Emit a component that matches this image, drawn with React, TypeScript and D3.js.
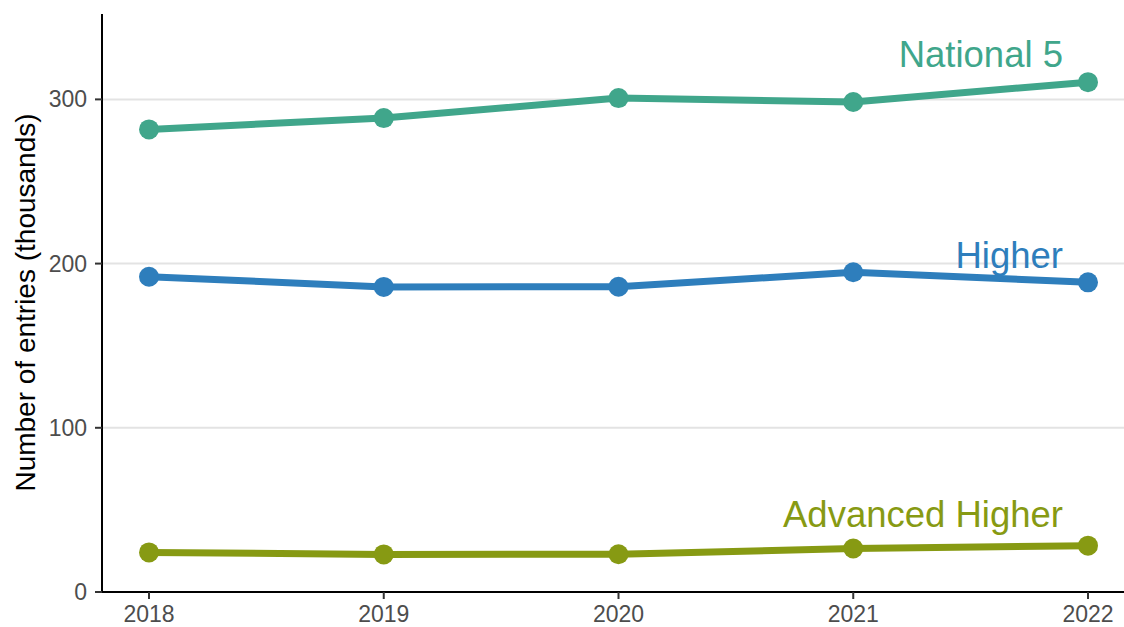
import React from "react";
import * as d3 from "d3";

const years = [2018, 2019, 2020, 2021, 2022];
const national5 = [281.7, 288.6, 300.8, 298.4, 310.5];
const higher = [192.0, 185.8, 185.9, 194.7, 188.6];
const advancedHigher = [24.1, 22.9, 23.0, 26.5, 28.2];
const seriesNames = ["National 5", "Higher", "Advanced Higher"];
const seriesColors = ["#40a68b", "#2e7ebc", "#879a13"];
const yTicks = [0, 100, 200, 300];

const W = 1124;
const H = 627;

export default function App() {
  const x = d3.scaleLinear().domain([2018, 2022]).range([149, 1088]);
  const y = d3.scaleLinear().domain([0, 352]).range([592, 14]);
  const line = d3
    .line<number>()
    .x((_, i) => x(years[i]))
    .y((d) => y(d));
  const allSeries = [national5, higher, advancedHigher];
  const labelY = [66.7, 267.7, 527.3];
  const font = "'Liberation Sans', Arial, sans-serif";

  return (
    <svg
      width={W}
      height={H}
      style={{ position: "absolute", left: 0, top: 0, background: "#fff" }}
      fontFamily={font}
    >
      {yTicks.slice(1).map((t) => (
        <line key={t} x1={102} x2={W} y1={y(t)} y2={y(t)} stroke="#e3e3e3" strokeWidth={2} />
      ))}
      {/* axes */}
      <line x1={102} x2={102} y1={14} y2={593} stroke="#000" strokeWidth={2} />
      <line x1={101} x2={W} y1={592} y2={592} stroke="#000" strokeWidth={2} />
      {yTicks.map((t) => (
        <g key={t}>
          <line x1={95} x2={102} y1={y(t)} y2={y(t)} stroke="#333" strokeWidth={2} />
          <text x={87} y={y(t)} dy="0.35em" textAnchor="end" fontSize={23} fill="#4d4d4d">
            {t}
          </text>
        </g>
      ))}
      {years.map((yr) => (
        <g key={yr}>
          <line x1={x(yr)} x2={x(yr)} y1={592} y2={599} stroke="#333" strokeWidth={2} />
          <text x={x(yr)} y={622} textAnchor="middle" fontSize={23} fill="#4d4d4d">
            {yr}
          </text>
        </g>
      ))}
      <text
        transform={`translate(35,302.5) rotate(-90)`}
        textAnchor="middle"
        fontSize={28}
        fill="#000"
      >
        Number of entries (thousands)
      </text>
      {allSeries.map((s, si) => (
        <g key={si}>
          <path d={line(s) || ""} fill="none" stroke={seriesColors[si]} strokeWidth={7} strokeLinejoin="round" />
          {s.map((v, i) => (
            <circle key={i} cx={x(years[i])} cy={y(v)} r={10} fill={seriesColors[si]} />
          ))}
          <text x={1063} y={labelY[si]} textAnchor="end" fontSize={36.5} fill={seriesColors[si]}>
            {seriesNames[si]}
          </text>
        </g>
      ))}
    </svg>
  );
}
